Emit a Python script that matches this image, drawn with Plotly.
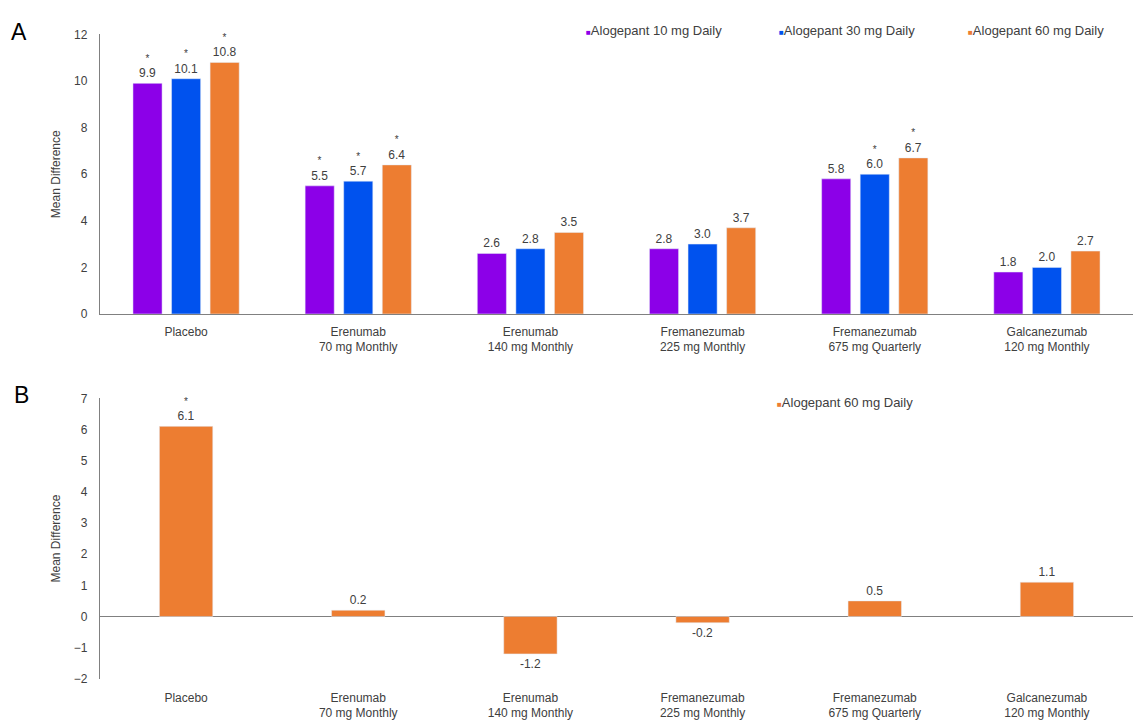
import plotly.graph_objects as go

# Comparators on the x axis
categories = [
    "Placebo",
    "Erenumab<br>70 mg Monthly",
    "Erenumab<br>140 mg Monthly",
    "Fremanezumab<br>225 mg Monthly",
    "Fremanezumab<br>675 mg Quarterly",
    "Galcanezumab<br>120 mg Monthly",
]

# Panel A: mean difference for each alogepant dose
series_names = ["Alogepant 10 mg Daily", "Alogepant 30 mg Daily", "Alogepant 60 mg Daily"]
vals_10mg = [9.9, 5.5, 2.6, 2.8, 5.8, 1.8]
vals_30mg = [10.1, 5.7, 2.8, 3.0, 6.0, 2.0]
vals_60mg = [10.8, 6.4, 3.5, 3.7, 6.7, 2.7]
sig_10mg = [True, True, False, False, False, False]
sig_30mg = [True, True, False, False, True, False]
sig_60mg = [True, True, False, False, True, False]

# Panel B: alogepant 60 mg only
panel_b_name = "Alogepant 60 mg Daily"
vals_b = [6.1, 0.2, -1.2, -0.2, 0.5, 1.1]
sig_b = [True, False, False, False, False, False]

colors = ["#8C00E8", "#0052EE", "#ED7D31"]
text_color = "#404040"
axis_color = "#808080"
font_family = "Liberation Sans, Arial, sans-serif"

W, H = 1133, 727


def px_x(p):
    return p / W


def px_y(p):
    return 1 - p / H


def labels(values, sig):
    out = []
    for v, s in zip(values, sig):
        t = f"{v:.1f}"
        out.append(("<span style='font-size:10px'>*</span><br>" + t) if s else t)
    return out


fig = go.Figure()

bar_w = 0.169
step = 0.224
offsets = [-step - bar_w / 2, -bar_w / 2, step - bar_w / 2]
for name, vals, sig, col, off in zip(
    series_names,
    [vals_10mg, vals_30mg, vals_60mg],
    [sig_10mg, sig_30mg, sig_60mg],
    colors,
    offsets,
):
    fig.add_trace(go.Bar(
        x=categories, y=vals, name=name, marker_color=col,
        width=bar_w, offset=off,
        text=labels(vals, sig), textposition="outside", cliponaxis=False,
        textfont=dict(size=12, color=text_color, family=font_family),
        xaxis="x", yaxis="y", showlegend=False,
    ))

fig.add_trace(go.Bar(
    x=categories, y=vals_b, name=panel_b_name, marker_color=colors[2],
    width=0.31,
    text=labels(vals_b, sig_b), textposition="outside", cliponaxis=False,
    textfont=dict(size=12, color=text_color, family=font_family),
    xaxis="x2", yaxis="y2", showlegend=False,
))

tick_font = dict(size=12, color=text_color, family=font_family)
title_font = dict(size=12, color=text_color, family=font_family)

fig.update_layout(
    width=W, height=H,
    margin=dict(l=0, r=0, t=0, b=0),
    paper_bgcolor="white", plot_bgcolor="white",
    barmode="overlay",
    font=dict(family=font_family, color=text_color),
    xaxis=dict(domain=[px_x(100), 1], anchor="y", showgrid=False, ticks="",
               showline=True, linecolor=axis_color, linewidth=1.3,
               tickfont=tick_font, ticklabelstandoff=6),
    yaxis=dict(domain=[px_y(313), px_y(28)], range=[0, 12], dtick=2, anchor="x",
               showgrid=False, zeroline=False, ticks="",
               showline=True, linecolor=axis_color, linewidth=1.3,
               tickfont=tick_font, ticklabelstandoff=9,
               title=dict(text="Mean Difference", font=title_font, standoff=10)),
    xaxis2=dict(domain=[px_x(100), 1], anchor="y2", showgrid=False, ticks="",
                showline=False, tickfont=tick_font, ticklabelstandoff=10),
    yaxis2=dict(domain=[px_y(685), px_y(399)], range=[-2, 7], dtick=1, anchor="x2",
                showgrid=False, ticks="",
                showline=True, linecolor=axis_color, linewidth=1.3,
                zeroline=True, zerolinecolor=axis_color, zerolinewidth=1.3,
                tickfont=tick_font, ticklabelstandoff=9,
                title=dict(text="Mean Difference", font=title_font, standoff=10)),
)

# Legend entries drawn as colored square + series name
annotations = []
legend_a_x = [584, 777, 966]
for name, col, lx in zip(series_names, colors, legend_a_x):
    annotations.append(dict(
        x=px_x(lx), y=px_y(24), xref="paper", yref="paper",
        xanchor="left", yanchor="middle", showarrow=False,
        text=f"<span style='color:{col};font-size:8px'>■</span>{name}",
        font=dict(size=13, color=text_color, family=font_family),
    ))
annotations.append(dict(
    x=px_x(775), y=px_y(403), xref="paper", yref="paper",
    xanchor="left", yanchor="middle", showarrow=False,
    text=f"<span style='color:{colors[2]};font-size:8px'>■</span>{panel_b_name}",
    font=dict(size=13, color=text_color, family=font_family),
))

# Panel letters
for letter, lx, ly in [("A", 19, 25), ("B", 22, 396)]:
    annotations.append(dict(
        x=px_x(lx), y=px_y(ly), xref="paper", yref="paper",
        xanchor="center", yanchor="middle", showarrow=False,
        text=letter, font=dict(size=23, color="black", family=font_family),
    ))

fig.update_layout(annotations=annotations)

fig.write_html("out.html")
